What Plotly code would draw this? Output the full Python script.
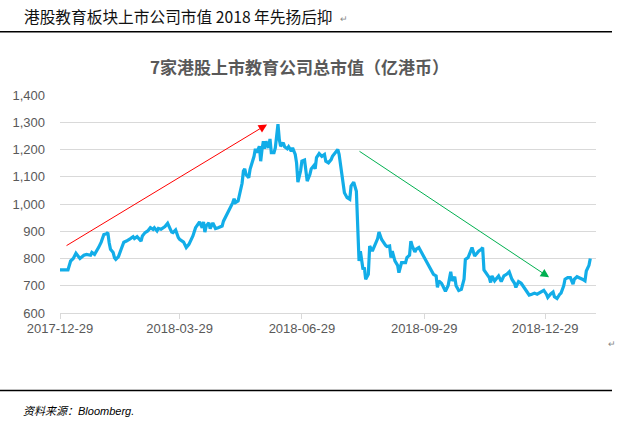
import pandas as pd
import plotly.graph_objects as go

# ---------------- data ----------------
base_date = "2017-12-29"
# trading-day offsets (calendar days after base_date) and total market value (亿港币)
day_offsets = [0, 6, 8, 10, 12, 14, 15, 18, 20, 23, 24, 26, 28, 29, 31, 33, 35, 36, 37, 38,
               40, 41, 42, 44, 46, 48, 50, 51, 53, 55, 56, 58, 59, 61, 62, 64, 66, 68, 70, 71,
               73, 74, 76, 78, 79, 81, 82, 84, 85, 87, 89, 90, 93, 95, 97, 100, 102, 103, 105, 107,
               108, 109, 110, 112, 113, 115, 117, 119, 122, 123, 125, 128, 130, 131, 132, 134, 135, 137, 138, 139,
               140, 142, 143, 145, 146, 147, 148, 150, 151, 152, 153, 154, 155, 157, 158, 159, 161, 162, 164, 165,
               166, 168, 169, 171, 172, 174, 175, 177, 178, 179, 181, 182, 184, 186, 188, 189, 191, 192, 193, 195,
               197, 199, 200, 202, 204, 205, 207, 209, 210, 213, 214, 216, 218, 219, 221, 223, 224, 225, 226, 227,
               228, 229, 230, 232, 233, 235, 237, 239, 240, 242, 245, 246, 248, 249, 250, 252, 254, 255, 257, 260,
               261, 263, 264, 265, 267, 268, 270, 272, 274, 276, 278, 280, 281, 283, 284, 285, 287, 288, 290, 292,
               294, 295, 297, 298, 300, 302, 304, 305, 307, 308, 310, 312, 315, 317, 318, 319, 321, 323, 324, 325,
               327, 329, 330, 332, 334, 336, 338, 340, 342, 343, 345, 347, 349, 351, 353, 355, 357, 359, 361, 364,
               366, 367, 369, 371, 372, 374, 376, 377, 379, 380, 382, 384, 386, 387, 389, 391, 393, 395, 396, 398,
               399]
market_value = [758, 758, 791, 800, 819, 803, 800, 812, 815, 812, 822, 815, 836, 840, 860, 888, 891, 895, 858, 834,
                822, 803, 797, 807, 834, 860, 864, 868, 873, 880, 873, 880, 873, 864, 883, 895, 901, 913, 907, 913,
                901, 910, 907, 913, 917, 929, 919, 897, 895, 905, 877, 870, 860, 840, 852, 883, 913, 919, 934, 913,
                934, 897, 919, 931, 910, 931, 910, 913, 919, 937, 956, 980, 1005, 1019, 1005, 1011, 1029, 1076, 1121, 1129,
                1108, 1096, 1127, 1157, 1175, 1203, 1188, 1212, 1157, 1200, 1230, 1203, 1230, 1206, 1239, 1188, 1188, 1206, 1293, 1237,
                1212, 1225, 1210, 1203, 1210, 1194, 1206, 1182, 1151, 1080, 1121, 1157, 1161, 1084, 1108, 1129, 1141, 1129, 1170, 1185,
                1175, 1182, 1157, 1151, 1163, 1175, 1188, 1200, 1182, 1090, 1041, 1023, 1017, 1066, 1080, 1047, 919, 791, 827, 785,
                760, 767, 724, 742, 846, 827, 848, 873, 897, 870, 848, 844, 846, 803, 827, 791, 775, 748, 785, 785,
                803, 812, 864, 846, 824, 834, 840, 822, 803, 791, 773, 754, 742, 736, 694, 718, 709, 700, 680, 700,
                751, 718, 733, 700, 683, 687, 724, 797, 803, 815, 840, 809, 827, 834, 840, 758, 742, 730, 712, 736,
                718, 730, 736, 715, 736, 742, 751, 724, 709, 694, 715, 709, 694, 683, 666, 669, 673, 669, 675, 683,
                669, 657, 669, 677, 660, 653, 669, 673, 700, 724, 730, 730, 706, 724, 733, 730, 724, 718, 754, 775,
                800]
assert len(day_offsets) == len(market_value), (len(day_offsets), len(market_value))

tick_dates = ["2017-12-29", "2018-03-29", "2018-06-29", "2018-09-29", "2018-12-29"]
y_ticks = [600, 700, 800, 900, 1000, 1100, 1200, 1300, 1400]

# trend arrows: (tail date, tail value) -> (head date, head value)
up_arrow = [("2018-01-01 19:00", 844), ("2018-06-02 19:00", 1292)]
down_arrow = [("2018-08-10 05:00", 1197), ("2019-01-01 00:00", 731)]

page_title = "港股教育板块上市公司市值 2018 年先扬后抑"
chart_title = "7家港股上市教育公司总市值（亿港币）"
source_text = "资料来源：Bloomberg."

# ---------------- figure ----------------
dates = pd.Timestamp(base_date) + pd.to_timedelta(day_offsets, unit="D")

W, H = 622, 429
L, R, T, B = 60, 596, 95.4, 313.5


def fx(px):
    return (px - L) / (R - L)


def fy(py):
    return (B - py) / (B - T)


CJK = "Noto Sans CJK SC"
LAT = "Liberation Sans, Arial"

fig = go.Figure()
fig.add_trace(go.Scatter(
    x=dates, y=market_value, mode="lines",
    line=dict(color="#12ADE8", width=3.2),
    hoverinfo="x+y", showlegend=False,
))

annotations = []
for (t_date, t_val), (h_date, h_val), col in [(up_arrow[0], up_arrow[1], "#FF0000"),
                                               (down_arrow[0], down_arrow[1], "#00B050")]:
    annotations.append(dict(
        x=h_date, y=h_val, ax=t_date, ay=t_val,
        xref="x", yref="y", axref="x", ayref="y",
        text="", showarrow=True, arrowhead=2, arrowsize=1.7,
        arrowwidth=1, arrowcolor=col, standoff=0, startstandoff=0,
    ))

annotations += [
    dict(text=page_title, x=fx(22), y=fy(17), xref="paper", yref="paper",
         xanchor="left", yanchor="middle", showarrow=False,
         font=dict(family=CJK, size=15.7, color="#111111")),
    dict(text="↵", x=fx(338), y=fy(19), xref="paper", yref="paper",
         xanchor="left", yanchor="middle", showarrow=False,
         font=dict(family=CJK, size=9, color="#888888")),
    dict(text="<b>" + chart_title + "</b>", x=fx(299), y=fy(67), xref="paper", yref="paper",
         xanchor="center", yanchor="middle", showarrow=False,
         font=dict(family=CJK, size=17, color="#595959")),
    dict(text="↵", x=fx(606), y=fy(344), xref="paper", yref="paper",
         xanchor="left", yanchor="middle", showarrow=False,
         font=dict(family=CJK, size=9, color="#888888")),
    dict(text="<i>" + source_text + "</i>", x=fx(21), y=fy(412), xref="paper", yref="paper",
         xanchor="left", yanchor="middle", showarrow=False,
         font=dict(family=LAT + ", " + CJK, size=11, color="#000000")),
]

shapes = [
    dict(type="line", xref="paper", yref="paper", x0=fx(0), x1=fx(612), y0=fy(32), y1=fy(32),
         line=dict(color="#000000", width=1.5)),
    dict(type="line", xref="paper", yref="paper", x0=fx(0), x1=fx(612), y0=fy(391), y1=fy(391),
         line=dict(color="#000000", width=1.5)),
]

fig.update_layout(
    width=W, height=H,
    margin=dict(l=L, r=W - R, t=T, b=H - B, pad=0),
    paper_bgcolor="white", plot_bgcolor="white",
    annotations=annotations, shapes=shapes,
    showlegend=False,
)

fig.update_xaxes(
    type="date",
    range=["2017-12-29", "2019-02-05 07:00"],
    tickvals=tick_dates, ticktext=tick_dates,
    showgrid=False, zeroline=False,
    showline=True, linecolor="#D9D9D9", linewidth=1,
    ticks="outside", ticklen=5, tickcolor="#D9D9D9",
    ticklabelstandoff=-2,
    tickfont=dict(family=LAT, size=13, color="#595959"),
)
fig.update_yaxes(
    range=[600, 1400], tickvals=y_ticks, tickformat=",d",
    showgrid=True, gridcolor="#D9D9D9", gridwidth=1,
    zeroline=False, showline=False, ticks="",
    ticklabelstandoff=14,
    tickfont=dict(family=LAT, size=13, color="#595959"),
)

fig.write_html("out.html",
               config={"displayModeBar": False},
               post_script="document.body.style.margin='0';document.body.style.overflow='hidden';")
